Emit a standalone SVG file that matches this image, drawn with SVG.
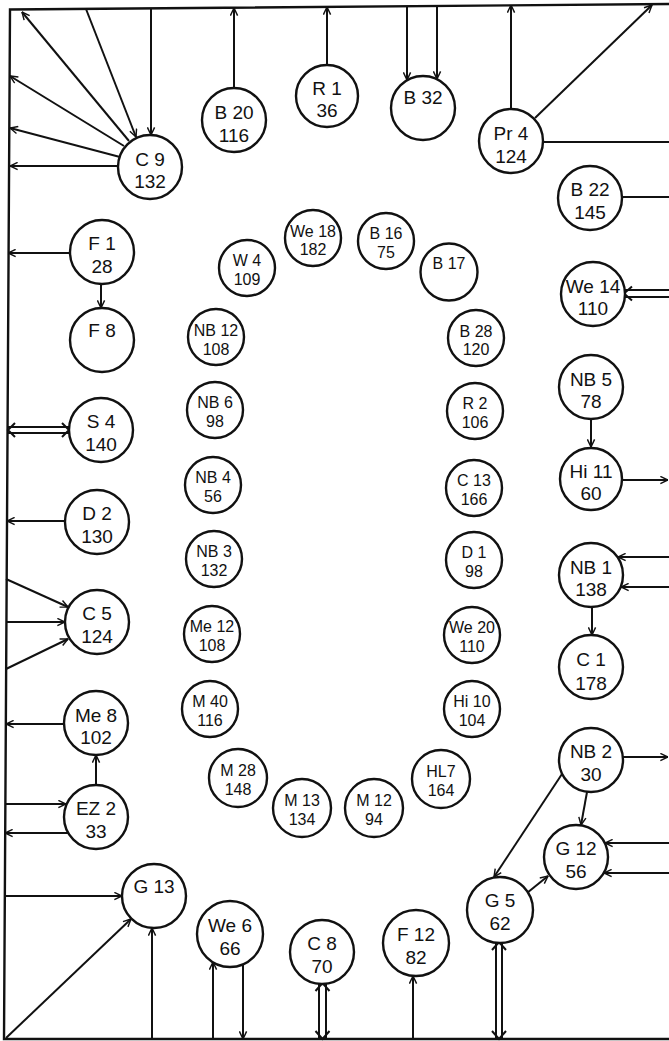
<svg xmlns="http://www.w3.org/2000/svg" width="669" height="1041" viewBox="0 0 669 1041">
<style>
.n circle{fill:#fff;stroke:#111;stroke-width:2.4}
.n text{font-family:"Liberation Sans",Arial,sans-serif;fill:#111;text-anchor:middle}
.L text{font-size:19px}
.S text{font-size:16px}
.c line,.c path,.c polyline{stroke:#111;stroke-width:2;fill:none}
.f{stroke:#111;stroke-width:2.4;fill:none}
</style>
<defs>
<marker id="a" viewBox="0 0 10 10" refX="9.5" refY="5" markerWidth="9" markerHeight="9" markerUnits="userSpaceOnUse" orient="auto-start-reverse">
<path d="M1,1 L9.5,5 L1,9" fill="none" stroke="#111" stroke-width="1.6"/>
</marker>
</defs>
<rect width="669" height="1041" fill="#fff"/>
<g id="frame">
<polyline class="f" points="669,4 10,9.5 4,1039 669,1039"/>
</g>
<g id="connectors" class="c">
<!-- C9 -->
<line x1="129" y1="141" x2="22" y2="12" marker-end="url(#a)"/>
<line x1="86" y1="9" x2="136" y2="137" marker-end="url(#a)"/>
<line x1="151" y1="8" x2="151" y2="135" marker-end="url(#a)"/>
<line x1="124" y1="146" x2="10" y2="76" marker-end="url(#a)"/>
<line x1="120" y1="157" x2="10" y2="128" marker-end="url(#a)"/>
<line x1="118" y1="166" x2="10" y2="166" marker-end="url(#a)"/>
<!-- top -->
<line x1="234" y1="88" x2="234" y2="8" marker-end="url(#a)"/>
<line x1="327" y1="64" x2="327" y2="7" marker-end="url(#a)"/>
<line x1="407" y1="6" x2="407" y2="80" marker-end="url(#a)"/>
<line x1="437" y1="6" x2="437" y2="79" marker-end="url(#a)"/>
<line x1="511" y1="109" x2="511" y2="5" marker-end="url(#a)"/>
<line x1="535" y1="118" x2="652" y2="5" marker-end="url(#a)"/>
<line x1="543" y1="142" x2="669" y2="142"/>
<line x1="622" y1="197" x2="669" y2="197"/>
<!-- right -->
<line x1="669" y1="290" x2="625" y2="290"/>
<line x1="669" y1="297" x2="625" y2="297"/>
<path d="M632,286.5 L624,293.5 L632,300.5"/>
<line x1="591" y1="419" x2="591" y2="447" marker-end="url(#a)"/>
<line x1="623" y1="480" x2="668" y2="480" marker-end="url(#a)"/>
<line x1="669" y1="557" x2="618" y2="557" marker-end="url(#a)"/>
<line x1="669" y1="587" x2="621" y2="587" marker-end="url(#a)"/>
<line x1="592" y1="607" x2="592" y2="635" marker-end="url(#a)"/>
<line x1="623" y1="757" x2="668" y2="757" marker-end="url(#a)"/>
<line x1="587" y1="792" x2="581" y2="825" marker-end="url(#a)"/>
<line x1="562" y1="774" x2="494" y2="877" marker-end="url(#a)"/>
<line x1="527" y1="893" x2="548" y2="876" marker-end="url(#a)"/>
<line x1="669" y1="843" x2="605" y2="843" marker-end="url(#a)"/>
<line x1="669" y1="873" x2="604" y2="873" marker-end="url(#a)"/>
<!-- bottom -->
<line x1="496" y1="943" x2="496" y2="1039"/>
<line x1="502" y1="943" x2="502" y2="1039"/>
<path d="M492,950 L499,942 L506,950"/>
<path d="M492,1031 L499,1039 L506,1031"/>
<line x1="413" y1="1039" x2="413" y2="976" marker-end="url(#a)"/>
<line x1="319" y1="984" x2="319" y2="1039"/>
<line x1="326" y1="984" x2="326" y2="1039"/>
<path d="M315.5,991 L322.5,983 L329.5,991"/>
<path d="M315.5,1031 L322.5,1039 L329.5,1031"/>
<line x1="213" y1="1039" x2="213" y2="962" marker-end="url(#a)"/>
<line x1="243" y1="964" x2="243" y2="1039" marker-end="url(#a)"/>
<line x1="152" y1="1039" x2="152" y2="928" marker-end="url(#a)"/>
<line x1="6" y1="1038" x2="131" y2="919" marker-end="url(#a)"/>
<!-- left -->
<line x1="5" y1="896" x2="122" y2="896" marker-end="url(#a)"/>
<line x1="5" y1="804" x2="66" y2="804" marker-end="url(#a)"/>
<line x1="68" y1="833" x2="5" y2="833" marker-end="url(#a)"/>
<line x1="96" y1="785" x2="96" y2="755" marker-end="url(#a)"/>
<line x1="64" y1="724" x2="6" y2="724" marker-end="url(#a)"/>
<line x1="6" y1="579" x2="68" y2="607" marker-end="url(#a)"/>
<line x1="6" y1="622" x2="65" y2="622" marker-end="url(#a)"/>
<line x1="6" y1="669" x2="68" y2="639" marker-end="url(#a)"/>
<line x1="65" y1="521" x2="7" y2="521" marker-end="url(#a)"/>
<line x1="8" y1="427" x2="69" y2="427"/>
<line x1="8" y1="433" x2="69" y2="433"/>
<path d="M15,423 L8,430 L15,437"/>
<path d="M62,423 L69,430 L62,437"/>
<line x1="70" y1="253" x2="8" y2="253" marker-end="url(#a)"/>
<line x1="101" y1="284" x2="101" y2="308" marker-end="url(#a)"/>
</g>
<!-- outer large nodes -->
<g id="C9" class="n L"><circle cx="150" cy="167" r="32"/><text x="150" y="166">C 9</text><text x="150" y="188">132</text></g>
<g id="B20" class="n L"><circle cx="234" cy="120" r="32"/><text x="234" y="119">B 20</text><text x="234" y="142">116</text></g>
<g id="R1" class="n L"><circle cx="327" cy="96" r="31"/><text x="327" y="95">R 1</text><text x="327" y="117">36</text></g>
<g id="B32" class="n L"><circle cx="423" cy="108" r="32"/><text x="423" y="104">B 32</text></g>
<g id="Pr4" class="n L"><circle cx="511" cy="141" r="32"/><text x="511" y="140">Pr 4</text><text x="511" y="163">124</text></g>
<g id="B22" class="n L"><circle cx="590" cy="198" r="32"/><text x="590" y="196">B 22</text><text x="590" y="219">145</text></g>
<g id="We14" class="n L"><circle cx="593" cy="294" r="32"/><text x="593" y="293">We 14</text><text x="593" y="315">110</text></g>
<g id="NB5" class="n L"><circle cx="591" cy="387" r="32"/><text x="591" y="386">NB 5</text><text x="591" y="408">78</text></g>
<g id="Hi11" class="n L"><circle cx="591" cy="479" r="31"/><text x="591" y="478">Hi 11</text><text x="591" y="500">60</text></g>
<g id="NB1" class="n L"><circle cx="591" cy="575" r="32"/><text x="591" y="574">NB 1</text><text x="591" y="596">138</text></g>
<g id="C1" class="n L"><circle cx="591" cy="667" r="32"/><text x="591" y="666">C 1</text><text x="591" y="690">178</text></g>
<g id="NB2" class="n L"><circle cx="591" cy="760" r="32"/><text x="591" y="758">NB 2</text><text x="591" y="781">30</text></g>
<g id="G12" class="n L"><circle cx="576" cy="857" r="32"/><text x="576" y="855">G 12</text><text x="576" y="878">56</text></g>
<g id="G5" class="n L"><circle cx="500" cy="910" r="33"/><text x="500" y="907">G 5</text><text x="500" y="930">62</text></g>
<g id="F12" class="n L"><circle cx="416" cy="943" r="33"/><text x="416" y="941">F 12</text><text x="416" y="964">82</text></g>
<g id="C8" class="n L"><circle cx="322" cy="952" r="32"/><text x="322" y="950">C 8</text><text x="322" y="973">70</text></g>
<g id="We6" class="n L"><circle cx="230" cy="934" r="33"/><text x="230" y="932">We 6</text><text x="230" y="955">66</text></g>
<g id="G13" class="n L"><circle cx="154" cy="896" r="32"/><text x="154" y="893">G 13</text></g>
<g id="EZ2" class="n L"><circle cx="96" cy="817" r="32"/><text x="96" y="815">EZ 2</text><text x="96" y="838">33</text></g>
<g id="Me8" class="n L"><circle cx="96" cy="723" r="32"/><text x="96" y="722">Me 8</text><text x="96" y="744">102</text></g>
<g id="C5" class="n L"><circle cx="97" cy="622" r="32"/><text x="97" y="620">C 5</text><text x="97" y="643">124</text></g>
<g id="D2" class="n L"><circle cx="97" cy="522" r="32"/><text x="97" y="520">D 2</text><text x="97" y="543">130</text></g>
<g id="S4" class="n L"><circle cx="101" cy="430" r="32"/><text x="101" y="428">S 4</text><text x="101" y="451">140</text></g>
<g id="F8" class="n L"><circle cx="102" cy="340" r="32"/><text x="102" y="337">F 8</text></g>
<g id="F1" class="n L"><circle cx="102" cy="252" r="32"/><text x="102" y="250">F 1</text><text x="102" y="273">28</text></g>
<!-- inner small nodes -->
<g id="W4" class="n S"><circle cx="247" cy="268" r="28"/><text x="247" y="266">W 4</text><text x="247" y="285">109</text></g>
<g id="We18" class="n S"><circle cx="313" cy="238" r="28"/><text x="313" y="237">We 18</text><text x="313" y="255">182</text></g>
<g id="B16" class="n S"><circle cx="386" cy="241" r="28"/><text x="386" y="239">B 16</text><text x="386" y="258">75</text></g>
<g id="B17" class="n S"><circle cx="449" cy="272" r="28.5"/><text x="449" y="269">B 17</text></g>
<g id="NB12" class="n S"><circle cx="216" cy="337" r="28"/><text x="216" y="336">NB 12</text><text x="216" y="355">108</text></g>
<g id="B28" class="n S"><circle cx="476" cy="338" r="28"/><text x="476" y="337">B 28</text><text x="476" y="355">120</text></g>
<g id="NB6" class="n S"><circle cx="215" cy="410" r="28"/><text x="215" y="408">NB 6</text><text x="215" y="427">98</text></g>
<g id="R2" class="n S"><circle cx="475" cy="411" r="28"/><text x="475" y="409">R 2</text><text x="475" y="428">106</text></g>
<g id="NB4" class="n S"><circle cx="213" cy="485" r="28"/><text x="213" y="483">NB 4</text><text x="213" y="502">56</text></g>
<g id="C13" class="n S"><circle cx="474" cy="488" r="28"/><text x="474" y="486">C 13</text><text x="474" y="505">166</text></g>
<g id="NB3" class="n S"><circle cx="214" cy="559" r="28"/><text x="214" y="557">NB 3</text><text x="214" y="576">132</text></g>
<g id="D1" class="n S"><circle cx="474" cy="560" r="28"/><text x="474" y="558">D 1</text><text x="474" y="577">98</text></g>
<g id="Me12" class="n S"><circle cx="212" cy="634" r="28"/><text x="212" y="632">Me 12</text><text x="212" y="651">108</text></g>
<g id="We20" class="n S"><circle cx="472" cy="635" r="28"/><text x="472" y="633">We 20</text><text x="472" y="652">110</text></g>
<g id="M40" class="n S"><circle cx="210" cy="709" r="28"/><text x="210" y="707">M 40</text><text x="210" y="726">116</text></g>
<g id="Hi10" class="n S"><circle cx="472" cy="709" r="28"/><text x="472" y="707">Hi 10</text><text x="472" y="726">104</text></g>
<g id="M28" class="n S"><circle cx="238" cy="778" r="29"/><text x="238" y="776">M 28</text><text x="238" y="795">148</text></g>
<g id="HL7" class="n S"><circle cx="441" cy="779" r="29"/><text x="441" y="777">HL7</text><text x="441" y="796">164</text></g>
<g id="M13" class="n S"><circle cx="302" cy="808" r="29"/><text x="302" y="806">M 13</text><text x="302" y="825">134</text></g>
<g id="M12" class="n S"><circle cx="374" cy="808" r="29"/><text x="374" y="806">M 12</text><text x="374" y="825">94</text></g>
</svg>
